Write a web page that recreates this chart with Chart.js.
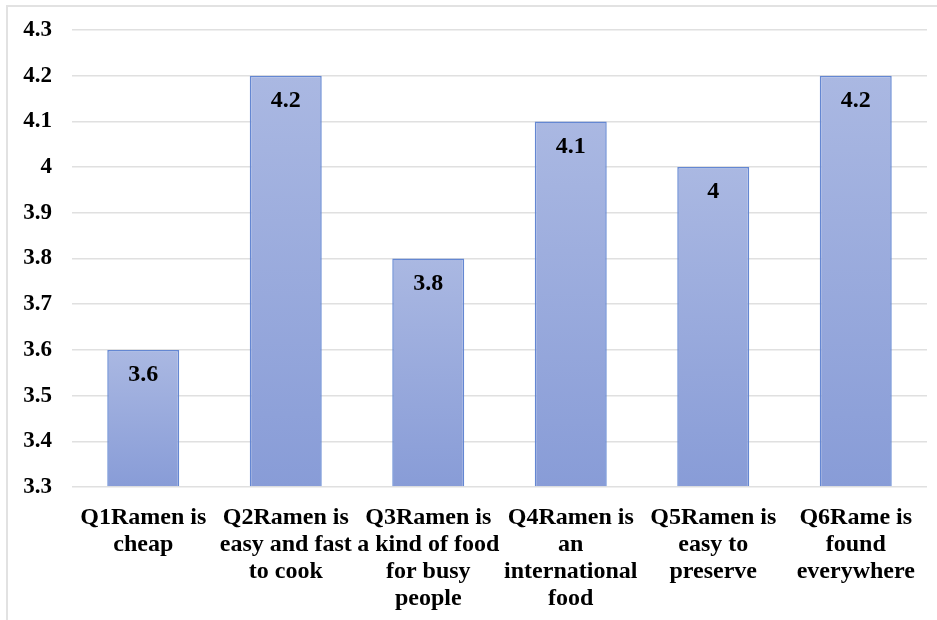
<!DOCTYPE html>
<html>
<head>
<meta charset="utf-8">
<script src="https://cdn.jsdelivr.net/npm/chart.js@4/dist/chart.umd.min.js"></script>
<style>
  html, body { margin: 0; padding: 0; background: #ffffff; }
  #wrap { position: relative; width: 937px; height: 620px; overflow: hidden; }
  #frame { position: absolute; left: 6px; top: 5px; width: 940px; height: 620px;
           border-left: 2px solid #e2e2e2; border-top: 2px solid #e2e2e2; box-sizing: border-box; }
  canvas { position: absolute; left: 0; top: 0; }
</style>
</head>
<body>
<div id="wrap">
  <div id="frame"></div>
  <canvas id="c" width="937" height="620"></canvas>
</div>
<script>
const categories = [
  ["Q1Ramen is", "cheap"],
  ["Q2Ramen is", "easy and fast", "to cook"],
  ["Q3Ramen is", "a kind of food", "for busy", "people"],
  ["Q4Ramen is", "an", "international", "food"],
  ["Q5Ramen is", "easy to", "preserve"],
  ["Q6Rame is", "found", "everywhere"]
];
const scores = [3.6, 4.2, 3.8, 4.1, 4.0, 4.2];
const yMin = 3.3, yMax = 4.3, yStep = 0.1;

const FONT = "'Liberation Serif', 'Times New Roman', serif";

const valueLabels = {
  id: 'valueLabels',
  afterDatasetsDraw(chart) {
    const ctx = chart.ctx;
    const meta = chart.getDatasetMeta(0);
    ctx.save();
    ctx.font = "bold 24px " + FONT;
    ctx.fillStyle = "#000";
    ctx.textAlign = "center";
    ctx.textBaseline = "middle";
    meta.data.forEach((el, i) => {
      ctx.fillText(String(chart.data.datasets[0].data[i]), el.x, el.y + 25);
    });
    ctx.restore();
  }
};

new Chart(document.getElementById('c'), {
  type: 'bar',
  data: {
    labels: categories,
    datasets: [{
      data: scores,
      backgroundColor(context) {
        const chart = context.chart;
        const area = chart.chartArea;
        if (!area || context.raw === undefined) return '#9aabdc';
        const top = chart.scales.y.getPixelForValue(context.raw);
        const g = chart.ctx.createLinearGradient(0, top, 0, area.bottom);
        g.addColorStop(0, '#aab8e2');
        g.addColorStop(1, '#889cd7');
        return g;
      },
      borderColor: '#6487d2',
      borderWidth: 1.5,
      categoryPercentage: 0.505,
      barPercentage: 1.0,
      base: yMin
    }]
  },
  options: {
    responsive: false,
    animation: false,
    layout: { padding: { left: 0, right: 10, top: 30, bottom: 0 } },
    plugins: { legend: { display: false }, tooltip: { enabled: false } },
    scales: {
      x: {
        grid: { display: false, drawTicks: false },
        border: { display: false },
        ticks: {
          color: '#000',
          font: { family: FONT, size: 24, weight: 'bold', lineHeight: 1.125 },
          padding: 17,
          maxRotation: 0, autoSkip: false
        },
        afterFit(scale) { scale.height = 133; scale.paddingLeft = 0; scale.paddingRight = 0; }
      },
      y: {
        min: yMin, max: yMax,
        grid: { color: '#e0e0e0', lineWidth: 1.5, drawTicks: false },
        border: { display: false },
        ticks: {
          stepSize: yStep,
          color: '#000',
          font: { family: FONT, size: 23, weight: 'bold' },
          padding: 20,
          callback(v) { return String(Math.round(v * 10) / 10); }
        },
        afterFit(scale) { scale.width = 72; scale.paddingTop = 0; scale.paddingBottom = 0; }
      }
    }
  },
  plugins: [valueLabels]
});
</script>
</body>
</html>
